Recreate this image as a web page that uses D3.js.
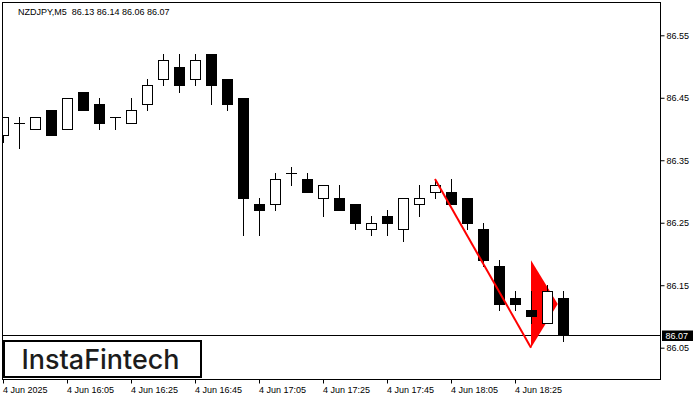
<!DOCTYPE html>
<html><head><meta charset="utf-8">
<script src="https://cdn.jsdelivr.net/npm/d3@7"></script>
<style>body{margin:0;background:#fff}svg{display:block}</style>
</head><body><svg id="c" width="700" height="400"></svg>
<script>
const symbolLabel = "NZDJPY,M5";
const opens  = [86.39,86.41,86.40,86.43,86.40,86.46,86.44,86.42,86.41,86.44,86.48,86.50,86.48,86.52,86.48,86.45,86.28,86.28,86.33,86.32,86.29,86.29,86.28,86.24,86.26,86.24,86.28,86.30,86.30,86.29,86.24,86.18,86.13,86.11,86.09,86.13];
const highs  = [86.42,86.42,86.42,86.43,86.45,86.46,86.45,86.42,86.45,86.48,86.52,86.52,86.52,86.52,86.48,86.45,86.29,86.33,86.34,86.33,86.31,86.31,86.28,86.26,86.27,86.29,86.31,86.32,86.32,86.29,86.25,86.19,86.14,86.14,86.15,86.14];
const lows   = [86.38,86.37,86.40,86.39,86.40,86.43,86.40,86.40,86.41,86.43,86.47,86.46,86.47,86.44,86.43,86.23,86.23,86.27,86.31,86.30,86.26,86.27,86.24,86.23,86.23,86.22,86.26,86.29,86.28,86.24,86.18,86.11,86.11,86.09,86.09,86.06];
const closes = [86.42,86.41,86.42,86.39,86.45,86.43,86.41,86.42,86.43,86.47,86.51,86.47,86.51,86.47,86.44,86.29,86.27,86.32,86.33,86.30,86.31,86.27,86.25,86.25,86.25,86.29,86.29,86.31,86.28,86.25,86.19,86.12,86.12,86.10,86.14,86.07];
const priceTicks = [86.05,86.15,86.25,86.35,86.45,86.55];
const timeTickBars = [0,4,8,12,16,20,24,28,32];
const timeTickLabels = ["4 Jun 2025","4 Jun 16:05","4 Jun 16:25","4 Jun 16:45","4 Jun 17:05","4 Jun 17:25","4 Jun 17:45","4 Jun 18:05","4 Jun 18:25"];
const lastPrice = 86.07;
const flagLineBars = [27,33];
const flagLinePrices = [86.32,86.05];
const pennantBars = [33,34.67,33];
const pennantPrices = [86.19,86.12,86.05];
const logoText = "InstaFintech";

const svg = d3.select("#c");
const L = 3, R = 660, T = 3, B = 379;
const x = d3.scaleLinear().domain([0,41]).range([3,659]);
const y = d3.scaleLinear().domain([86.05,86.55]).range([347.7,35.3]);
const font = "'Liberation Sans', Arial, sans-serif";

svg.append("defs").append("clipPath").attr("id","plot")
  .append("rect").attr("x",L).attr("y",T).attr("width",R-L).attr("height",B-T);

const g = svg.append("g").attr("clip-path","url(#plot)");

// last price line
const yl = Math.round(y(lastPrice)) + 0.5;
g.append("line").attr("x1",L).attr("x2",R).attr("y1",yl).attr("y2",yl)
  .attr("stroke","#000").attr("stroke-width",1);

// pennant triangle
g.append("path")
  .attr("d", d3.line().x((d,i)=>x(pennantBars[i])).y((d,i)=>y(pennantPrices[i]))(pennantBars) + "Z")
  .attr("fill","#ff0000");

// candles
const idx = d3.range(opens.length);
const cg = g.selectAll("g.c").data(idx).join("g").attr("class","c");
cg.append("line")
  .attr("x1",i=>Math.round(x(i))+0.5).attr("x2",i=>Math.round(x(i))+0.5)
  .attr("y1",i=>Math.round(y(highs[i]))).attr("y2",i=>Math.round(y(lows[i]))+1)
  .attr("stroke","#000").attr("stroke-width",1);
cg.each(function(i){
  const s = d3.select(this);
  const cx = Math.round(x(i));
  const o = opens[i], c = closes[i];
  if (Math.abs(o-c) < 1e-9) {
    const yy = Math.round(y(o)) + 0.5;
    s.append("line").attr("x1",cx-5).attr("x2",cx+6).attr("y1",yy).attr("y2",yy)
      .attr("stroke","#000").attr("stroke-width",1);
  } else {
    const yt = Math.round(y(Math.max(o,c))), yb = Math.round(y(Math.min(o,c)));
    s.append("rect").attr("x",cx-4.5).attr("y",yt+0.5).attr("width",10).attr("height",yb-yt)
      .attr("fill", c > o ? "#fff" : "#000").attr("stroke","#000").attr("stroke-width",1);
  }
});

// flag pole line
g.append("line")
  .attr("x1",x(flagLineBars[0])).attr("y1",y(flagLinePrices[0]))
  .attr("x2",x(flagLineBars[1])).attr("y2",y(flagLinePrices[1]))
  .attr("stroke","#ff0000").attr("stroke-width",2);

// frame
svg.append("rect").attr("x",L-0.5).attr("y",T-0.5).attr("width",R-L+1).attr("height",B-T+1)
  .attr("fill","none").attr("stroke","#000").attr("stroke-width",1);

// right axis
const ya = svg.append("g").attr("transform",`translate(${R+0.5},0)`)
  .call(d3.axisRight(y).tickValues(priceTicks).tickSize(4).tickPadding(2).tickFormat(d3.format(".2f")));
ya.select(".domain").remove();
ya.selectAll("text").attr("font-family",font).attr("font-size",9).attr("fill","#000");
ya.selectAll("line").attr("stroke","#000");

// bottom axis
const xa = svg.append("g").attr("transform",`translate(0,${B+0.5})`)
  .call(d3.axisBottom(x).tickValues(timeTickBars).tickSize(4).tickPadding(3).tickFormat((d,i)=>timeTickLabels[i]));
xa.select(".domain").remove();
xa.selectAll("text").attr("font-family",font).attr("font-size",9).attr("fill","#000")
  .attr("text-anchor","start").attr("x",-0.5);
xa.selectAll("line").attr("stroke","#000");

// last price label
svg.append("rect").attr("x",662).attr("y",yl-5).attr("width",31).attr("height",10.5).attr("fill","#000");
svg.append("text").attr("x",665.5).attr("y",yl).attr("dy","0.35em")
  .attr("font-family",font).attr("font-size",9).attr("fill","#fff").text(d3.format(".2f")(lastPrice));

// header
svg.append("text").attr("x",18).attr("y",11.7).attr("dy","0.35em")
  .attr("font-family",font).attr("font-size",9).attr("fill","#000")
  .attr("xml:space","preserve")
  .text(`${symbolLabel}  ${d3.format(".2f")(opens[35])} ${d3.format(".2f")(highs[35])} ${d3.format(".2f")(lows[35])} ${d3.format(".2f")(closes[35])}`);

// logo
svg.append("rect").attr("x",4).attr("y",341).attr("width",197).attr("height",36)
  .attr("fill","#fff").attr("stroke","#000").attr("stroke-width",2);
svg.append("text").attr("x",21.5).attr("y",369)
  .attr("font-family","Inter, 'Open Sans', sans-serif").attr("font-weight",500).attr("font-size",27.5)
  .attr("fill","#1c1c1c").attr("textLength",158).attr("lengthAdjust","spacingAndGlyphs").text(logoText);
</script></body></html>
